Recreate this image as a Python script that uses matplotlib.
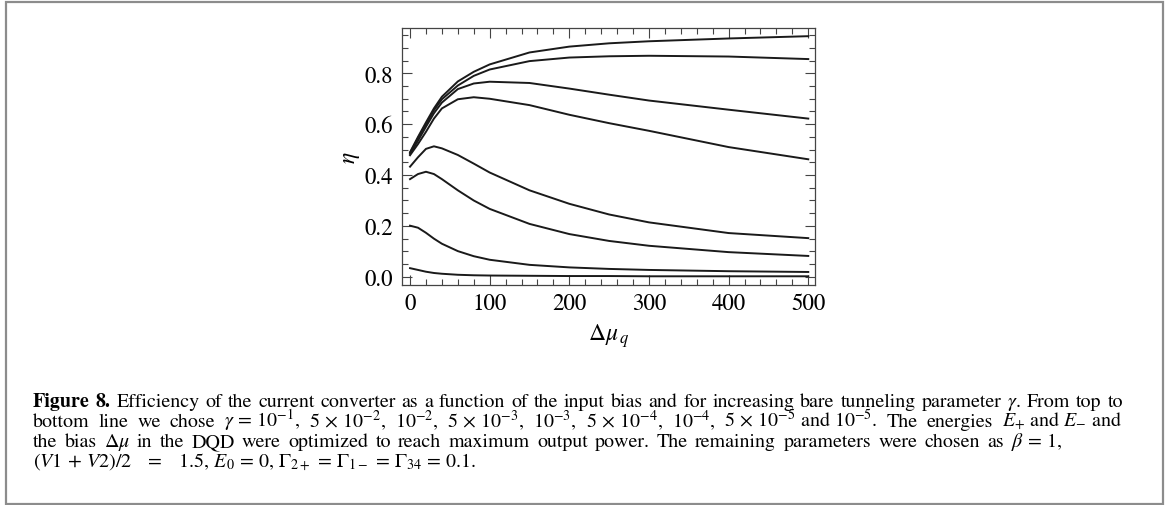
import numpy as np
import matplotlib
matplotlib.use('Agg')
import matplotlib.pyplot as plt
from matplotlib.patches import Rectangle
from matplotlib.ticker import MultipleLocator

plt.rcParams['font.family'] = 'STIXGeneral'
plt.rcParams['mathtext.fontset'] = 'stix'

# input bias values
dmu = [0, 10, 20, 30, 40, 60, 80, 100, 150, 200, 250, 300, 400, 500]

# efficiency, top to bottom line (gamma = 1e-1 ... 1e-5)
eta_1 = [0.490, 0.550, 0.607, 0.662, 0.708, 0.768, 0.806, 0.835, 0.882, 0.905, 0.918, 0.926, 0.937, 0.946]
eta_2 = [0.487, 0.545, 0.600, 0.655, 0.698, 0.752, 0.790, 0.815, 0.848, 0.862, 0.867, 0.869, 0.866, 0.856]
eta_3 = [0.483, 0.535, 0.590, 0.643, 0.685, 0.738, 0.760, 0.767, 0.762, 0.740, 0.716, 0.693, 0.657, 0.622]
eta_4 = [0.478, 0.522, 0.570, 0.622, 0.662, 0.698, 0.706, 0.700, 0.675, 0.637, 0.604, 0.574, 0.510, 0.462]
eta_5 = [0.433, 0.470, 0.503, 0.513, 0.505, 0.479, 0.445, 0.410, 0.340, 0.287, 0.245, 0.214, 0.172, 0.152]
eta_6 = [0.384, 0.404, 0.413, 0.404, 0.384, 0.340, 0.300, 0.267, 0.208, 0.168, 0.141, 0.122, 0.097, 0.082]
eta_7 = [0.201, 0.193, 0.173, 0.150, 0.130, 0.101, 0.081, 0.067, 0.047, 0.037, 0.031, 0.027, 0.022, 0.019]
eta_8 = [0.034, 0.027, 0.020, 0.015, 0.012, 0.008, 0.006, 0.005, 0.004, 0.003, 0.003, 0.002, 0.002, 0.002]

curves = [eta_1, eta_2, eta_3, eta_4, eta_5, eta_6, eta_7, eta_8]

# '~' keeps words together when the line gets justified
caption = [
    r"Figure 8. Efficiency of the current converter as a function of the input bias and for increasing bare tunneling parameter $\gamma$. From top to",
    r"bottom line we chose $\gamma\,=\,10^{-1}$, $5\,\times\,10^{-2}$, $10^{-2}$, $5\,\times\,10^{-3}$, $10^{-3}$, $5\,\times\,10^{-4}$, $10^{-4}$, $5\,\times\,10^{-5}$~and~$10^{-5}$. The energies $E_{+}$~and~$E_{-}$~and",
    r"the bias $\Delta\mu$ in the DQD were optimized to reach maximum output power. The remaining parameters were chosen as $\beta\,=\,1$,",
    r"$(V1\,+\,V2)/2\quad=\quad\mathrm{1.5}$, $E_0\,=\,0$, $\Gamma_{2+}\,=\,\Gamma_{1-}\,=\,\Gamma_{34}\,=\,0.1$.",
]
# right edge (px) each caption line is spread to, None = natural spacing
caption_right = [1123, 1122, 1062, None]

W, H = 1168, 506
fig = plt.figure(figsize=(W / 100, H / 100), dpi=100)
ax = fig.add_axes([0.3439, 0.4354, 0.3539, 0.5067])

for eta in curves:
    ax.plot(dmu, eta, color='#1a1a1a', lw=1.4)

ax.set_xlim(-10.5, 508.5)
ax.set_ylim(-0.031, 0.977)
ax.xaxis.set_major_locator(MultipleLocator(100))
ax.xaxis.set_minor_locator(MultipleLocator(20))
ax.yaxis.set_major_locator(MultipleLocator(0.2))
ax.yaxis.set_minor_locator(MultipleLocator(0.05))
ax.yaxis.set_major_formatter(matplotlib.ticker.FormatStrFormatter('%.1f'))
ax.tick_params(which='both', direction='in', top=True, right=True, color='#444444', width=0.8)
ax.tick_params(which='major', length=7, labelsize=16.5, pad=6)
ax.tick_params(which='minor', length=4)
for s in ax.spines.values():
    s.set_color('#444444')
    s.set_linewidth(0.9)

ax.set_xlabel(r"$\Delta\mu_{\,q}$", fontsize=17, labelpad=5)
ax.set_ylabel(r"$\eta$", fontsize=17, labelpad=2)

# caption, word by word so each line is justified
renderer = fig.canvas.get_renderer()
x0 = 33
fs = 14.4
for i, line in enumerate(caption):
    y = 1 - (407 + 20 * i) / H
    if caption_right[i] is None:
        fig.text(x0 / W, y, line.replace('~', ' '), fontsize=fs, va='baseline', ha='left')
        continue
    words = [w.replace('~', ' ') for w in line.split(' ')]
    texts = []
    for j, w in enumerate(words):
        bold = (i == 0 and j < 2)
        texts.append(fig.text(0, y, w, fontsize=fs, va='baseline', ha='left',
                              fontweight='bold' if bold else 'normal'))
    widths = [t.get_window_extent(renderer=renderer).width for t in texts]
    gap = (caption_right[i] - x0 - sum(widths)) / (len(words) - 1)
    x = x0
    for t, wd in zip(texts, widths):
        t.set_x(x / W)
        x += wd + gap

fig.patches.append(Rectangle((6 / W, 1 - 505 / H), 1157 / W, 502 / H,
                             transform=fig.transFigure, fill=False,
                             edgecolor='#8c8c8c', lw=1.6))

fig.savefig('out.png', dpi=100)
